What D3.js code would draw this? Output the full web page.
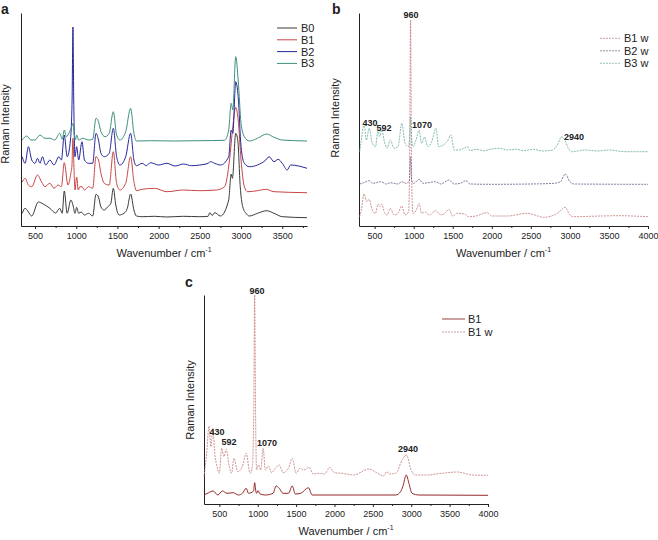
<!DOCTYPE html>
<html>
<head>
<meta charset="utf-8">
<script src="https://cdn.jsdelivr.net/npm/d3@7"></script>
<style>
  body { margin: 0; background: #fff; }
  svg text { font-family: "Liberation Sans", Arial, sans-serif; fill: #222; }
</style>
</head>
<body>
<svg id="chart" width="658" height="540"></svg>
<script>
// ---- data: [wavenumber, intensity (a.u., stacked as drawn)] ----
const specB0 = [[345,12.7],[380,17.7],[420,14],[460,10],[540,24],[600,22],[680,17.7],[750,13],[800,17.7],[830,12.7],[855,35],[890,12.7],[935,26],[960,21],[985,12.7],[1005,18.7],[1030,12.7],[1060,14],[1100,11],[1150,12.7],[1200,10],[1240,31.7],[1270,29],[1300,19],[1340,16],[1380,19],[1420,22.7],[1450,37.7],[1480,21],[1520,11],[1580,12.7],[1620,17.7],[1660,32],[1700,16],[1730,10],[1800,9.3],[1950,9.7],[2100,9],[2300,9.7],[2500,9.3],[2600,9.7],[2620,13.3],[2650,10.5],[2680,13.3],[2750,10],[2850,26],[2880,52],[2895,47.7],[2935,92.7],[2960,86],[2990,39.3],[3020,19.3],[3060,12.7],[3100,10],[3200,12.7],[3310,15.3],[3400,12.7],[3500,9.3],[3800,8.3]];
const specB1 = [[345,44],[380,47.7],[420,41],[460,39.3],[530,51],[580,44],[620,39.3],[680,42.7],[730,37.7],[780,41],[820,39.3],[855,63.3],[900,41],[935,52.7],[948,60],[960,87.7],[972,60],[985,36],[1005,49],[1025,36],[1045,39.3],[1070,39.3],[1100,36],[1150,39.3],[1200,37.7],[1240,69.3],[1270,66],[1300,52.7],[1340,42.7],[1400,41],[1450,74.3],[1490,42.7],[1530,36],[1600,42.7],[1660,69.3],[1700,44.3],[1730,35.3],[1800,36.7],[1950,37.7],[2100,34.3],[2300,36],[2500,35.3],[2700,36],[2800,39.3],[2860,66],[2900,99.3],[2935,118.7],[2965,106],[3000,66],[3040,39.3],[3080,34.3],[3200,35.3],[3300,36.7],[3400,34.3],[3800,33.3]];
const specB2 = [[345,69.3],[380,62.7],[420,79.3],[460,66],[500,62.7],[530,67.7],[560,62.7],[590,69.3],[630,61],[680,66],[730,61],[790,69.3],[820,66],[855,91],[890,69.3],[930,86],[950,126],[960,199],[970,126],[985,69.3],[1005,79.3],[1030,66],[1070,84.3],[1100,66],[1150,62.7],[1200,62.7],[1240,92.7],[1270,86],[1300,72.7],[1340,69.3],[1400,72.7],[1450,97.7],[1490,69.3],[1530,61],[1600,69.3],[1660,92.7],[1700,66],[1730,60.3],[1800,62.7],[1850,60.3],[1900,63.3],[2000,61],[2100,62.7],[2200,60],[2300,62],[2400,60.3],[2500,61],[2600,62.7],[2630,64.3],[2680,62.7],[2750,61],[2850,69.3],[2880,96],[2900,92.7],[2935,144.3],[2965,129.3],[3000,79.3],[3040,62.7],[3100,59.3],[3200,61],[3300,66],[3340,69.3],[3400,64.3],[3450,66.7],[3500,62.7],[3560,56],[3600,61],[3800,57.7]];
const specB3 = [[345,86],[400,90],[450,86],[500,86],[560,91],[620,87.7],[680,87.7],[740,86],[800,92.7],[830,86.7],[855,96],[880,89.3],[920,94.3],[945,99.3],[960,102.7],[975,92.7],[990,86],[1005,91],[1030,86],[1080,87.7],[1150,86],[1200,86.7],[1240,107.7],[1270,104.3],[1300,94.3],[1350,89.3],[1400,92.7],[1450,114.3],[1490,91],[1530,86],[1600,94.3],[1660,117.7],[1700,92.7],[1730,85],[1900,85.3],[2200,85],[2500,85.3],[2800,85.7],[2850,96],[2880,122.7],[2900,116],[2935,169.3],[2965,146],[3000,102.7],[3040,89.3],[3100,85],[3200,87.7],[3310,92],[3400,88.7],[3500,86],[3800,85]];

const specB1w = [[309,9.3],[330,16],[365,32],[400,24.3],[430,26.7],[470,16],[510,12.7],[545,22],[570,19.3],[590,22],[630,12.7],[660,11],[700,17.7],[750,11],[800,12.7],[848,20],[890,11],[935,14],[948,60],[960,206],[972,60],[990,12.7],[1030,15.3],[1070,22.7],[1100,12.7],[1140,14.3],[1200,11],[1280,15.3],[1350,11],[1400,12.7],[1450,16.7],[1500,10],[1560,12.7],[1650,12],[1700,9.3],[1800,10],[1940,13.3],[2000,10],[2200,10],[2450,12.7],[2550,11],[2660,8.7],[2800,11],[2880,15.3],[2940,18.7],[3000,11],[3050,9.3],[3400,10],[3600,10.3],[4000,9.3]];
const specB2w = [[309,42],[360,43.3],[430,45.3],[480,42.7],[580,44.3],[650,42],[700,43.3],[800,42],[848,44.3],[900,42.7],[945,45],[960,69.3],[975,45],[1000,42.7],[1070,46.7],[1120,42.7],[1280,44.3],[1350,42],[1450,46],[1520,42],[1600,42.7],[1670,45.3],[1720,42],[2000,41.7],[2500,42],[2800,42.7],[2880,44.3],[2940,52],[3000,44.3],[3050,42],[4000,41.7]];
const specB3w = [[309,74.3],[330,86],[364,102],[395,86],[430,97.7],[470,82.7],[510,79.3],[545,96],[565,89.3],[590,96],[630,82.7],[660,77.7],[700,86],[750,77.7],[800,79.3],[848,102.7],[890,82.7],[935,79.3],[948,90],[960,109],[972,90],[990,79.3],[1030,86],[1070,96],[1100,82.7],[1140,88.7],[1180,79.3],[1230,84.3],[1285,97.7],[1320,79.3],[1380,81],[1440,86],[1475,91],[1520,76],[1580,76],[1640,77.7],[1690,79.3],[1720,75.3],[1800,76.7],[1900,75.3],[2000,77],[2100,77.7],[2200,76],[2320,76.7],[2400,75.3],[2530,76.7],[2650,75],[2780,76],[2850,82.7],[2890,89.3],[2935,86],[2980,77.7],[3020,74.3],[3100,75],[3200,76],[3350,75],[3500,76],[3700,74.3],[4000,74.3]];

const specCB1w = [[300,27.3],[335,50.7],[365,78],[390,57.3],[415,75.7],[440,50.7],[470,37.3],[500,30.7],[530,55.7],[560,47.3],[590,54.7],[630,37.3],[660,30.7],[690,45.7],[740,32.3],[800,37.3],[850,50.7],[900,30.7],[930,37.3],[948,90],[960,209],[972,90],[985,34],[1010,39],[1040,34],[1070,55.7],[1100,34],[1140,38],[1180,31.3],[1230,35.7],[1280,39],[1330,31.3],[1400,35.7],[1450,45.7],[1500,30.7],[1550,35.7],[1600,34],[1670,36.7],[1720,30],[1800,30.7],[1870,30],[1940,36.7],[2000,31.3],[2100,30.7],[2250,29],[2450,35],[2550,31.3],[2640,28],[2680,32.3],[2720,30],[2800,30.7],[2880,44],[2940,49],[2990,35.7],[3050,29],[3200,29],[3400,30.7],[3600,32],[3800,29],[4000,28.7]];
const specCB1 = [[300,9],[360,11.3],[420,13],[480,9],[540,13],[600,10.7],[680,11.3],[750,9],[800,10.7],[850,15.7],[880,10.7],[945,13],[960,21.3],[975,13],[985,10.7],[1005,13.3],[1030,10],[1100,9],[1200,10.7],[1240,18],[1280,15.7],[1330,10.7],[1400,10.7],[1450,18],[1490,10],[1560,10.7],[1660,16.3],[1710,9],[1800,9],[2300,9],[2800,9],[2860,12.3],[2890,17.3],[2935,29],[2970,20.7],[3010,10.7],[3100,9],[4000,8.7]];

const majorTicks = [500, 1000, 1500, 2000, 2500, 3000, 3500, 4000];
const peakLabels = ["960", "430", "592", "1070", "2940"];

// ---- layout ----
const svg = d3.select('#chart');

const panels = {
  a: { xd: [330, 3800], xr: [21, 307], yd: [0, 213], yr: [226, 13] },
  b: { xd: [300, 4000], xr: [359, 648], yd: [0, 213], yr: [226, 13] },
  c: { xd: [300, 4000], xr: [204, 488], yd: [0, 209], yr: [504, 295] }
};

function drawAxes(p) {
  p.x = d3.scaleLinear().domain(p.xd).range(p.xr);
  p.y = d3.scaleLinear().domain(p.yd).range(p.yr);
  const maj = majorTicks.filter(t => t >= p.xd[0] && t <= p.xd[1]);
  const minor = d3.range(250, 4001, 500).filter(t => t >= p.xd[0] && t <= p.xd[1]);

  const gx = svg.append('g').attr('transform', `translate(0,${p.yr[0]})`);
  gx.call(d3.axisBottom(p.x).tickValues(maj).tickFormat(d3.format('d'))
    .tickSize(3).tickSizeOuter(0).tickPadding(4));
  gx.append('g').call(d3.axisBottom(p.x).tickValues(minor).tickSize(2).tickFormat(''))
    .select('.domain').remove();
  gx.selectAll('.domain, line').attr('stroke', '#222').attr('stroke-width', 1);
  gx.selectAll('text').style('font-size', '9px').style('font-family', '"Liberation Sans", Arial, sans-serif').attr('fill', '#222');

  svg.append('g').attr('transform', `translate(${p.xr[0]},0)`)
    .call(d3.axisLeft(p.y).tickValues([]).tickSizeOuter(0))
    .select('.domain').attr('stroke', '#222');

  // x title
  const tx = (p.xr[0] + p.xr[1]) / 2;
  const t = svg.append('text')
    .attr('x', tx).attr('y', p.yr[0] + 31)
    .attr('text-anchor', 'middle')
    .style('font-size', '11px');
  t.append('tspan').text('Wavenumber / cm');
  t.append('tspan').attr('dy', -5).style('font-size', '7px').text('-1');
}

function drawSpec(p, data, color, dash, width) {
  const line = d3.line()
    .x(d => p.x(d[0]))
    .y(d => p.y(d[1]))
    .curve(d3.curveMonotoneX);
  svg.append('path')
    .datum(data)
    .attr('fill', 'none')
    .attr('stroke', color)
    .attr('stroke-width', width || 1)
    .attr('stroke-dasharray', dash || null)
    .attr('d', line);
}

function yTitle(x, y) {
  svg.append('text')
    .attr('transform', `translate(${x},${y}) rotate(-90)`)
    .attr('text-anchor', 'middle')
    .style('font-size', '11px')
    .text('Raman Intensity');
}

function legend(items, x0, y0, dy) {
  items.forEach((it, i) => {
    const y = y0 + i * dy;
    svg.append('line')
      .attr('x1', x0).attr('x2', x0 + (it.len || 20))
      .attr('y1', y).attr('y2', y)
      .attr('stroke', it.color)
      .attr('stroke-width', it.w || 1)
      .attr('stroke-dasharray', it.dash || null);
    svg.append('text')
      .attr('x', x0 + (it.len || 20) + (it.gap || 4)).attr('y', y)
      .attr('dy', '0.36em')
      .style('font-size', '11px')
      .text(it.name);
  });
}

function panelLetter(ch, x, y) {
  svg.append('text').attr('x', x).attr('y', y)
    .style('font-size', '14px').style('font-weight', 'bold').attr('fill', '#111')
    .text(ch);
}

function note(txt, x, y) {
  svg.append('text').attr('x', x).attr('y', y)
    .attr('text-anchor', 'middle')
    .style('font-size', '9px').style('font-weight', 'bold')
    .text(txt);
}

// ---- panel a ----
const A = panels.a;
drawAxes(A);
drawSpec(A, specB0, '#3a3a3a');
drawSpec(A, specB1, '#c84646');
drawSpec(A, specB2, '#26269a');
drawSpec(A, specB3, '#3f8f7f');
yTitle(9, 124);
panelLetter('a', 1, 14);
legend([
  { name: 'B0', color: '#3a3a3a' },
  { name: 'B1', color: '#c84646' },
  { name: 'B2', color: '#26269a' },
  { name: 'B3', color: '#3f8f7f' }
], 277, 28, 11.8);

// ---- panel b ----
const B = panels.b;
drawAxes(B);
drawSpec(B, specB1w, '#c27a7a', '2,1', 0.8);
drawSpec(B, specB2w, '#6a5a8a', '2,1', 0.8);
drawSpec(B, specB3w, '#66a89e', '2,1', 0.8);
yTitle(339, 118);
panelLetter('b', 332, 14);
legend([
  { name: 'B1 w', color: '#c9a0a0', dash: '2,1' },
  { name: 'B2 w', color: '#9a90aa', dash: '2,1' },
  { name: 'B3 w', color: '#9cc4bc', dash: '2,1' }
], 600, 38.3, 12.5);
note(peakLabels[0], 411, 18);
note(peakLabels[1], 370, 126);
note(peakLabels[2], 384, 131);
note(peakLabels[3], 422, 128);
note(peakLabels[4], 574, 140);

// ---- panel c ----
const C = panels.c;
drawAxes(C);
drawSpec(C, specCB1w, '#c47a7a', '2,1', 0.8);
drawSpec(C, specCB1, '#962828', null, 1);
yTitle(194, 400);
panelLetter('c', 185, 287);
legend([
  { name: 'B1', color: '#caa0a0', w: 2, len: 23, gap: 3 },
  { name: 'B1 w', color: '#c9a0a0', dash: '2,1', len: 23, gap: 3 }
], 442, 319, 13);
note(peakLabels[0], 257, 294);
note(peakLabels[1], 217, 435);
note(peakLabels[2], 229, 445);
note(peakLabels[3], 267, 446);
note(peakLabels[4], 408, 452);
</script>
</body>
</html>
